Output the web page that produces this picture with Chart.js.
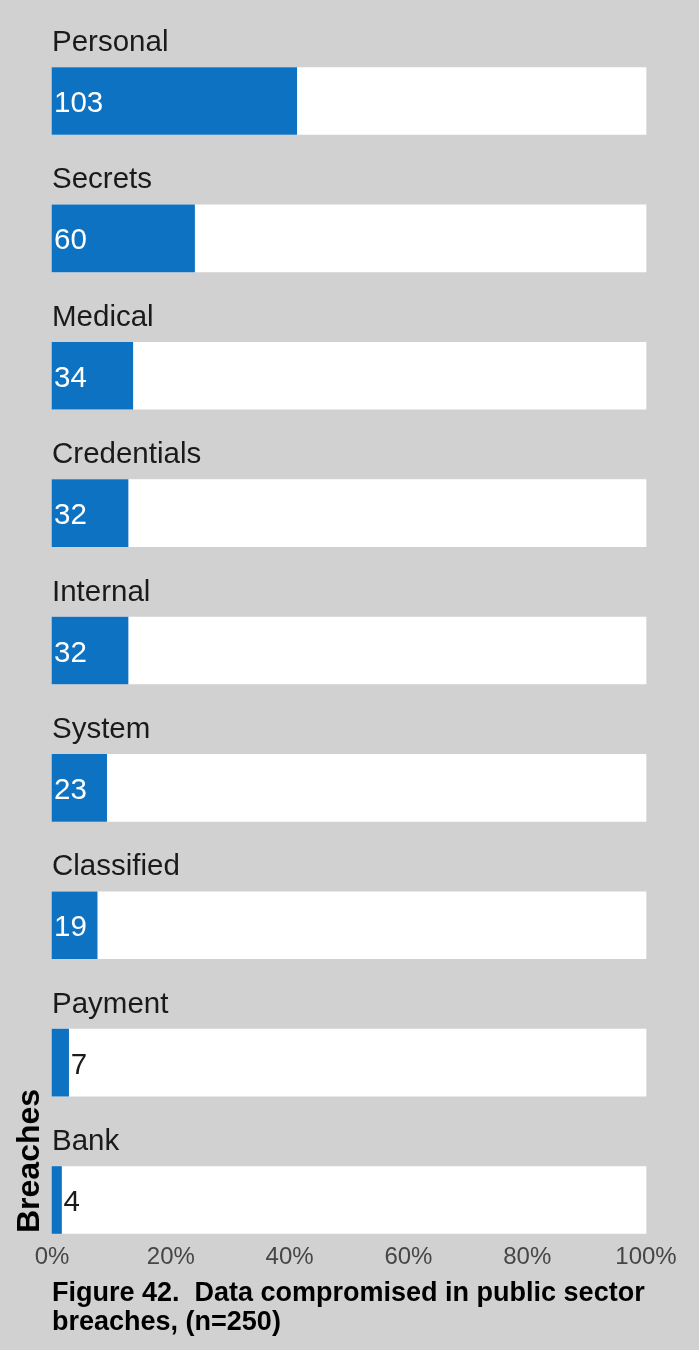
<!DOCTYPE html>
<html><head><meta charset="utf-8">
<script src="https://cdn.jsdelivr.net/npm/chart.js@4/dist/chart.umd.min.js"></script>
<style>html,body{margin:0;padding:0;background:#d0d1d0;}#wrap{width:699px;height:1350px;position:relative}canvas{display:block}</style>
</head><body><div id="wrap"><canvas id="c" width="699" height="1350"></canvas></div>
<script>
const categories = ["Personal","Secrets","Medical","Credentials","Internal","System","Classified","Payment","Bank"];
const counts = [103,60,34,32,32,23,19,7,4];
const total = 250;
const trackMax = 100;
const tickValues = [0,20,40,60,80,100];
const captionLines = ["Figure 42.  Data compromised in public sector","breaches, (n=250)"];
const axisTitle = "Breaches";

const BG = '#d0d1d0', BLUE = '#0e72c2', DARK = '#1a1a1a';
const FONT = '"Liberation Sans", Arial, Helvetica, sans-serif';
const pct = counts.map(c => c / total * 100);

const labelPlugin = {
  id: 'labels',
  beforeDraw(chart) {
    const ctx = chart.ctx;
    ctx.save(); ctx.fillStyle = BG; ctx.fillRect(0, 0, chart.width, chart.height); ctx.restore();
  },
  afterDatasetsDraw(chart) {
    const ctx = chart.ctx;
    const meta = chart.getDatasetMeta(0);
    const left = chart.chartArea.left;
    ctx.save();
    ctx.textBaseline = 'alphabetic';
    meta.data.forEach((el, i) => {
      ctx.font = '29.5px ' + FONT;
      ctx.fillStyle = DARK;
      ctx.textAlign = 'left';
      ctx.fillText(categories[i], left, el.y - 50);
      const txt = String(counts[i]);
      const w = ctx.measureText(txt).width;
      const barW = el.x - el.base;
      if (w + 6 <= barW) {
        ctx.fillStyle = '#ffffff';
        ctx.fillText(txt, el.base + 2, el.y + 11);
      } else {
        ctx.fillStyle = DARK;
        ctx.fillText(txt, el.x + 2, el.y + 11);
      }
    });
    ctx.font = 'bold 27px ' + FONT;
    ctx.fillStyle = '#000';
    captionLines.forEach((line, k) => ctx.fillText(line, left, 1301 + k * 28.5));
    ctx.translate(38.5, 1233);
    ctx.rotate(-Math.PI / 2);
    ctx.font = 'bold 32px ' + FONT;
    ctx.fillStyle = '#000';
    ctx.fillText(axisTitle, 0, 0);
    ctx.restore();
  }
};

new Chart(document.getElementById('c'), {
  type: 'bar',
  data: {
    labels: categories,
    datasets: [
      { data: pct, backgroundColor: BLUE, barThickness: 67, grouped: false, clip: false, order: 0, borderWidth: 0 },
      { data: categories.map(() => trackMax), backgroundColor: '#ffffff', barThickness: 67, grouped: false, clip: false, order: 1, borderWidth: 0 }
    ]
  },
  options: {
    indexAxis: 'y',
    responsive: false,
    animation: false,
    devicePixelRatio: 1,
    layout: { padding: { top: 101, left: 52, right: 53, bottom: 78 } },
    plugins: { legend: { display: false }, tooltip: { enabled: false }, title: { display: false } },
    events: [],
    scales: {
      x: {
        type: 'linear', min: 0, max: trackMax,
        afterBuildTicks: s => { s.ticks = tickValues.map(v => ({ value: v })); },
        afterFit: s => { s.height = 72; s.paddingLeft = 0; s.paddingRight = 0; },
        ticks: { callback: v => v + '%', color: '#464646', font: { family: FONT, size: 24 }, padding: 43, maxRotation: 0, autoSkip: false },
        grid: { display: false, drawTicks: false },
        border: { display: false }
      },
      y: { type: 'category', offset: false, display: false }
    }
  },
  plugins: [labelPlugin]
});
</script>
</body></html>
